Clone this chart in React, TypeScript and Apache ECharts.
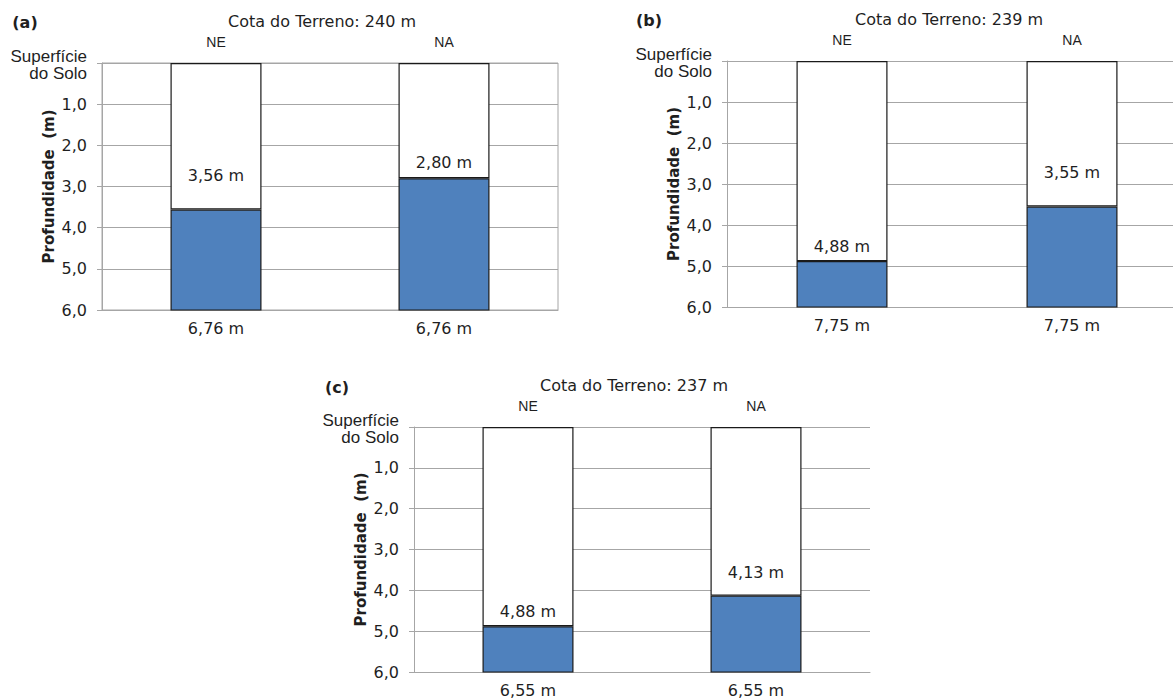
import React, { useEffect, useRef } from "react";
import * as echarts from "echarts";

// ---- data ----
const panelTags = ["(a)", "(b)", "(c)"];
const elevations = [240, 239, 237];
const wells = ["NE", "NA"];
const waterLevels = [
  [3.56, 2.8],
  [4.88, 3.55],
  [4.88, 4.13],
];
const totalDepths = [6.76, 7.75, 6.55];
const depthTicks = [0, 1, 2, 3, 4, 5, 6];

// ---- styling / layout constants ----
const GRIDS = [
  { left: 102, top: 63, width: 456, height: 247, border: true },
  { left: 727, top: 61, width: 460, height: 246, border: false },
  { left: 414, top: 427, width: 456, height: 245, border: false },
];
const LABEL_GAP = [
  [26, 8],
  [7, 26],
  [7, 15],
];
const TITLE_POS = [
  { tx: 322, ty: 21, px: 25, py: 22 },
  { tx: 949, ty: 19, px: 649, py: 20 },
  { tx: 634, ty: 385, px: 337, py: 387 },
];
const BLUE = "#4F81BD";
const EDGE = "#1a1a1a";
const GRIDC = "#a6a6a6";
const TXT = "#1f1f1f";
const FONT = "DejaVu Sans";
const ARIAL = "Liberation Sans";

const fmt = (v: number, d: number) => v.toFixed(d).replace(".", ",");

export default function App() {
  const ref = useRef<HTMLDivElement>(null);
  useEffect(() => {
    if (!ref.current) return;
    const chart = echarts.init(ref.current, null, { renderer: "svg" });

    const grid: any[] = [];
    const xAxis: any[] = [];
    const yAxis: any[] = [];
    const series: any[] = [];
    const graphic: any[] = [];

    GRIDS.forEach((g, i) => {
      grid.push({
        left: g.left,
        top: g.top,
        width: g.width,
        height: g.height,
        containLabel: false,
        outerBoundsMode: "none",
        show: g.border,
        borderColor: GRIDC,
        borderWidth: 1,
        backgroundColor: "transparent",
      });
      // bottom axis (total depth)
      xAxis.push({
        type: "category",
        gridIndex: i,
        data: wells,
        position: "bottom",
        axisLine: { show: true, onZero: false, lineStyle: { color: GRIDC } },
        axisTick: { show: false },
        axisLabel: {
          margin: 10,
          fontFamily: FONT,
          fontSize: 16,
          color: TXT,
          formatter: () => fmt(totalDepths[i], 2) + " m",
        },
      });
      // top axis (well names)
      xAxis.push({
        type: "category",
        gridIndex: i,
        data: wells,
        position: "top",
        axisLine: { show: false, onZero: false },
        axisTick: { show: false },
        axisLabel: { margin: 14, fontFamily: ARIAL, fontSize: 14, color: TXT },
      });
      yAxis.push({
        type: "value",
        gridIndex: i,
        inverse: true,
        min: depthTicks[0],
        max: depthTicks[depthTicks.length - 1],
        interval: 1,
        name: "Profundidade  (m)",
        nameLocation: "middle",
        nameGap: 46,
        nameMoveOverlap: false,
        nameTextStyle: { fontFamily: FONT, fontSize: 15, fontWeight: "bold", color: TXT },
        axisLine: { show: true, lineStyle: { color: GRIDC } },
        axisTick: { show: true, length: 5, lineStyle: { color: GRIDC } },
        splitLine: { show: true, lineStyle: { color: GRIDC, width: 1 } },
        axisLabel: {
          margin: 15,
          fontFamily: FONT,
          fontSize: 16,
          color: TXT,
          formatter: (v: number) =>
            v === 0 ? "{t|Superfície}\n{s|do Solo}" : fmt(v, 1),
          rich: {
            t: {
              fontFamily: ARIAL,
              fontSize: 17,
              lineHeight: 20,
              color: TXT,
              align: "right",
              padding: [6, 0, 0, 0],
            },
            s: { fontFamily: ARIAL, fontSize: 17, lineHeight: 20, color: TXT, align: "right" },
          },
        },
      });
      series.push({
        type: "bar",
        name: "seco" + i,
        xAxisIndex: 2 * i,
        yAxisIndex: i,
        stack: "p" + i,
        barWidth: 91,
        itemStyle: { color: "#ffffff", borderColor: EDGE, borderWidth: 1.2 },
        data: waterLevels[i],
      });
      series.push({
        type: "bar",
        name: "agua" + i,
        xAxisIndex: 2 * i,
        yAxisIndex: i,
        stack: "p" + i,
        barWidth: 91,
        clip: true,
        itemStyle: { color: BLUE, borderColor: EDGE, borderWidth: 1.2 },
        label: {
          show: true,
          position: "top",
          fontFamily: FONT,
          fontSize: 16,
          color: TXT,
        },
        data: waterLevels[i].map((lv, j) => ({
          value: totalDepths[i] - lv,
          label: { distance: LABEL_GAP[i][j], formatter: fmt(lv, 2) + " m" },
        })),
      });
      const tp = TITLE_POS[i];
      graphic.push({
        type: "text",
        x: tp.tx,
        y: tp.ty,
        style: {
          text: "Cota do Terreno: " + elevations[i] + " m",
          fontFamily: FONT,
          fontSize: 16,
          fill: TXT,
          align: "center",
          verticalAlign: "middle",
        },
      });
      graphic.push({
        type: "text",
        x: tp.px,
        y: tp.py,
        style: {
          text: panelTags[i],
          fontFamily: FONT,
          fontSize: 16,
          fontWeight: "bold",
          fill: TXT,
          align: "center",
          verticalAlign: "middle",
        },
      });
    });

    chart.setOption({
      animation: false,
      backgroundColor: "#ffffff",
      grid,
      xAxis,
      yAxis,
      series,
      graphic,
    });
    return () => chart.dispose();
  }, []);
  return (
    <div
      ref={ref}
      style={{ position: "fixed", left: 0, top: 0, width: 1173, height: 699 }}
    />
  );
}
